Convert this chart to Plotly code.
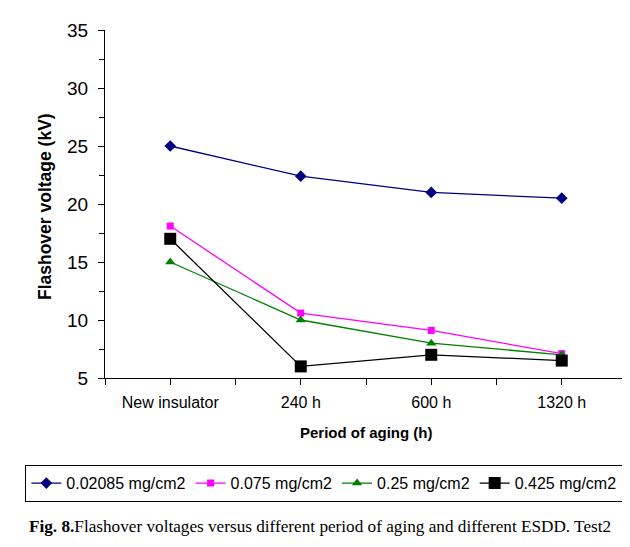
import plotly.graph_objects as go

categories = ["New insulator", "240 h", "600 h", "1320 h"]
s1_name = "0.02085 mg/cm2"
s1_vals = [25.0, 22.4, 21.0, 20.5]
s2_name = "0.075 mg/cm2"
s2_vals = [18.1, 10.6, 9.1, 7.1]
s3_name = "0.25 mg/cm2"
s3_vals = [15.0, 10.0, 8.0, 7.0]
s4_name = "0.425 mg/cm2"
s4_vals = [17.0, 6.0, 7.0, 6.5]
y_ticks = [5, 10, 15, 20, 25, 30, 35]

xpos = list(range(len(categories)))

series = [
    (s1_name, s1_vals, "#000080", "diamond", 9),
    (s2_name, s2_vals, "#FF00FF", "square", 7),
    (s3_name, s3_vals, "#008000", "triangle-up", 9),
    (s4_name, s4_vals, "#000000", "square", 12),
]

fig = go.Figure()
for name, vals, color, sym, size in series:
    fig.add_trace(go.Scatter(
        x=xpos, y=vals, name=name, mode="lines+markers",
        line=dict(color=color, width=1.3),
        marker=dict(symbol=sym, size=size, color=color),
    ))

# tick positions at categories and halfway between
tv, tt = [], []
for i, c in enumerate(categories):
    tv += [i - 0.5, i]
    tt += ["", c]
tv.append(len(categories) - 0.5)
tt.append("")

# page body has an 8px margin, so the figure is 8px smaller and shifted
fig.update_layout(
    width=622, height=539,
    margin=dict(l=97, r=3, t=22, b=169, autoexpand=False),
    paper_bgcolor="white", plot_bgcolor="white",
    font=dict(family="Liberation Sans, Arial, sans-serif", color="black"),
    showlegend=True,
    legend=dict(
        orientation="h", x=-0.153, xanchor="left", y=-0.25, yanchor="top",
        bordercolor="black", borderwidth=1.2, font=dict(size=16),
        itemwidth=30, tracegroupgap=0,
    ),
    xaxis=dict(
        range=[-0.5, len(categories) - 0.5],
        tickmode="array", tickvals=tv, ticktext=tt,
        ticks="outside", ticklen=6, tickcolor="black", tickwidth=1,
        showline=True, linecolor="black", linewidth=1.2,
        showgrid=False, zeroline=False,
        tickfont=dict(size=16),
        ticklabelstandoff=4,
    ),
    yaxis=dict(
        range=[5, 35],
        tickmode="array", tickvals=y_ticks,
        ticks="outside", ticklen=6, tickcolor="black", tickwidth=1,
        minor=dict(dtick=2.5, tick0=5, ticks="outside", ticklen=5, tickcolor="black", showgrid=False),
        showline=True, linecolor="black", linewidth=1.2,
        showgrid=False, zeroline=False,
        tickfont=dict(size=19),
        ticklabelstandoff=6,
    ),
    annotations=[
        dict(text="<b>Flashover voltage (kV)</b>", xref="paper", yref="paper",
             x=-0.115, y=0.494, xanchor="center", yanchor="middle", textangle=-90,
             showarrow=False, font=dict(size=17.5)),
        dict(text="<b>Period of aging (h)</b>", xref="paper", yref="paper",
             x=0.5, y=-0.158, xanchor="center", yanchor="middle",
             showarrow=False, font=dict(size=15)),
        dict(text="<b>Fig. 8.</b>Flashover voltages versus different period of aging and different ESDD. Test2",
             xref="paper", yref="paper", x=-0.1494, y=-0.428, xanchor="left", yanchor="middle",
             showarrow=False, font=dict(size=17.2, family="Liberation Serif, Times New Roman, serif")),
    ],
)

fig.write_html("out.html")
